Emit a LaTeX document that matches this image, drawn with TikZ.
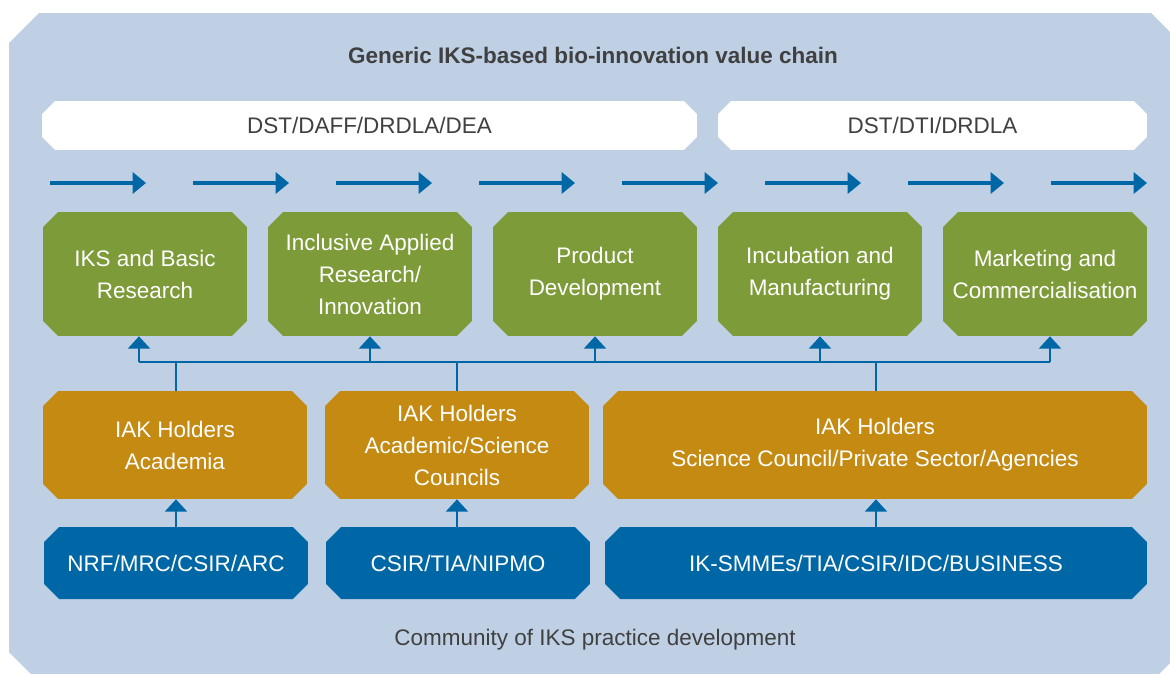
\documentclass[tikz,border=0pt]{standalone}
\usepackage{fontspec}
\setmainfont{Liberation Sans}
\usetikzlibrary{arrows.meta,shapes.misc}

\definecolor{bgblau}{RGB}{191,208,229}
\definecolor{stufegruen}{RGB}{125,155,56}
\definecolor{haltergold}{RGB}{196,138,18}
\definecolor{traegerblau}{RGB}{0,103,166}
\definecolor{textgrau}{RGB}{64,64,64}

\tikzset{
	kasten/.style={chamfered rectangle, chamfered rectangle xsep=0.15cm, chamfered rectangle ysep=0.15cm,
		inner sep=0pt, align=center, text=white, font=\fontsize{12.8}{18.2}\selectfont},
	ministerium/.style={kasten, fill=white, text=textgrau, minimum height=0.98cm,
		chamfered rectangle xsep=0.13cm, chamfered rectangle ysep=0.13cm},
	stufe/.style={kasten, fill=stufegruen, minimum width=4.08cm, minimum height=2.48cm,
		chamfered rectangle xsep=0.15cm, chamfered rectangle ysep=0.15cm},
	halter/.style={kasten, fill=haltergold, minimum height=2.16cm},
	traeger/.style={kasten, fill=traegerblau, minimum height=1.44cm},
	fluss/.style={-{Triangle[length=7.6pt,width=12pt]}, line width=1.8pt, traegerblau},
	hoch/.style={-{Triangle[length=7pt,width=12.5pt]}, line width=1.4pt, traegerblau},
	leitung/.style={line width=1.4pt, traegerblau}
}

\begin{document}
\begin{tikzpicture}[x=0.02cm, y=-0.02cm]
	% zeichne Hintergrund
	\useasboundingbox (0,0) rectangle (1170,673);
	\clip (0,0) rectangle (1170,673);
	\fill[bgblau] (9,43) -- (39,13) -- (1151,13) -- (1181,43) -- (1181,652) -- (1151,682) -- (39,682) -- (9,652) -- cycle;

	% zeichne Titel
	\node[font=\fontsize{12.8}{18}\selectfont\bfseries, text=textgrau] (titel) at (593,55) {Generic IKS-based bio-innovation value chain};
	\node[font=\fontsize{12.8}{18}\selectfont, text=textgrau] (fuss) at (595,640) {Community of IKS practice development};

	% zeichne Ministerien
	\node[ministerium, minimum width=13.1cm] (m1) at (369.5,125.5) {DST/DAFF/DRDLA/DEA};
	\node[ministerium, minimum width=8.58cm] (m2) at (932.5,125.5) {DST/DTI/DRDLA};

	% zeichne Pfeilreihe
	\foreach \i in {0,...,7}
		\draw[fluss] (50+143*\i,183) -- ++(96,0);

	% zeichne Wertschoepfungsstufen
	\node[stufe] (g1) at (145,274) {IKS and Basic\\Research};
	\node[stufe] (g2) at (370,274) {Inclusive Applied\\Research/\\Innovation};
	\node[stufe] (g3) at (595,274) {Product\\Development};
	\node[stufe] (g4) at (820,274) {Incubation and\\Manufacturing};
	\node[stufe] (g5) at (1045,274) {Marketing and\\Commercialisation};

	% zeichne IAK Holders
	\node[halter, minimum width=5.28cm] (h1) at (175,445) {IAK Holders\\Academia};
	\node[halter, minimum width=5.28cm] (h2) at (457,445) {IAK Holders\\Academic/Science\\Councils};
	\node[halter, minimum width=10.88cm] (h3) at (875,445) {IAK Holders\\Science Council/Private Sector/Agencies};

	% zeichne Traeger
	\node[traeger, minimum width=5.28cm] (t1) at (176,563) {NRF/MRC/CSIR/ARC};
	\node[traeger, minimum width=5.28cm] (t2) at (458,563) {CSIR/TIA/NIPMO};
	\node[traeger, minimum width=10.84cm] (t3) at (876,563) {IK-SMMEs/TIA/CSIR/IDC/BUSINESS};

	% zeichne Verbindungen
	\coordinate (busl) at (139,362);
	\coordinate (busr) at (1050,362);
	\draw[leitung] (busl) -- (busr);
	\draw[hoch] (busl) -- (busl |- g1.south);
	\draw[hoch] (g2.south |- busl) -- (g2.south);
	\draw[hoch] (g3.south |- busl) -- (g3.south);
	\draw[hoch] (g4.south |- busl) -- (g4.south);
	\draw[hoch] (busr) -- (busr |- g5.south);
	\draw[leitung] (h1.north -| 176,0) -- (176,362);
	\draw[leitung] (h2.north) -- (h2.north |- busl);
	\draw[leitung] (h3.north -| 876,0) -- (876,362);
	\draw[hoch] (t1.north) -- (t1.north |- h1.south);
	\draw[hoch] (t2.north -| h2.south) -- (h2.south);
	\draw[hoch] (t3.north) -- (t3.north |- h3.south);
\end{tikzpicture}
\end{document}
